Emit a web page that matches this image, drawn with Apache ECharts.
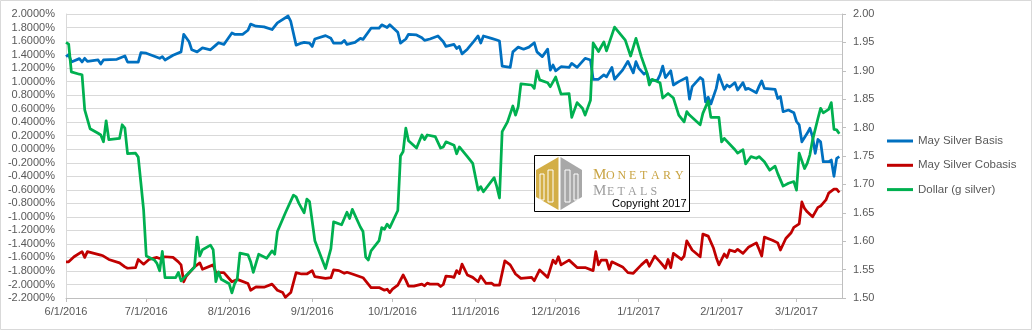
<!DOCTYPE html>
<html>
<head>
<meta charset="utf-8">
<script src="https://cdn.jsdelivr.net/npm/echarts@6/dist/echarts.min.js"></script>
<style>
  html, body { margin: 0; padding: 0; background: #fff; }
  #chart { width: 1032px; height: 330px; }
</style>
</head>
<body>
<div id="chart"></div>
<script>
// Series names
const seriesNames = ['May Silver Basis', 'May Silver Cobasis', 'Dollar (g silver)'];

// May Silver Basis, percent (left axis)
const basis = [
  ['2016-06-01',1.37],['2016-06-02',1.40],['2016-06-03',1.29],['2016-06-06',1.34],['2016-06-07',1.29],
  ['2016-06-08',1.345],['2016-06-09',1.30],['2016-06-13',1.32],['2016-06-14',1.26],['2016-06-15',1.32],
  ['2016-06-20',1.33],['2016-06-23',1.38],['2016-06-24',1.29],['2016-06-28',1.29],['2016-06-29',1.43],
  ['2016-07-01',1.42],['2016-07-06',1.345],['2016-07-07',1.37],['2016-07-08',1.32],['2016-07-11',1.39],
  ['2016-07-14',1.44],['2016-07-15',1.70],['2016-07-17',1.59],['2016-07-18',1.47],['2016-07-20',1.44],
  ['2016-07-22',1.50],['2016-07-25',1.47],['2016-07-27',1.54],['2016-07-28',1.575],['2016-07-30',1.55],
  ['2016-08-02',1.72],['2016-08-03',1.70],['2016-08-06',1.70],['2016-08-08',1.76],['2016-08-09',1.85],
  ['2016-08-11',1.82],['2016-08-14',1.81],['2016-08-17',1.77],['2016-08-19',1.87],['2016-08-23',1.97],
  ['2016-08-24',1.89],['2016-08-26',1.54],['2016-08-28',1.57],['2016-08-29',1.58],['2016-08-31',1.57],
  ['2016-09-01',1.52],['2016-09-02',1.63],['2016-09-06',1.68],['2016-09-08',1.64],['2016-09-09',1.57],
  ['2016-09-12',1.57],['2016-09-13',1.61],['2016-09-14',1.55],['2016-09-17',1.58],['2016-09-19',1.64],
  ['2016-09-20',1.625],['2016-09-23',1.79],['2016-09-26',1.79],['2016-09-27',1.84],['2016-09-29',1.80],
  ['2016-09-30',1.84],['2016-10-03',1.73],['2016-10-04',1.57],['2016-10-06',1.63],['2016-10-07',1.70],
  ['2016-10-10',1.69],['2016-10-12',1.65],['2016-10-13',1.61],['2016-10-15',1.63],['2016-10-18',1.675],
  ['2016-10-20',1.59],['2016-10-21',1.52],['2016-10-24',1.55],['2016-10-25',1.49],['2016-10-26',1.52],
  ['2016-10-27',1.41],['2016-10-29',1.48],['2016-10-31',1.575],['2016-11-02',1.675],['2016-11-03',1.57],
  ['2016-11-04',1.675],['2016-11-07',1.64],['2016-11-09',1.615],['2016-11-10',1.60],['2016-11-11',1.23],
  ['2016-11-14',1.21],['2016-11-15',1.44],['2016-11-17',1.51],['2016-11-19',1.48],['2016-11-21',1.51],
  ['2016-11-23',1.575],['2016-11-24',1.44],['2016-11-26',1.37],['2016-11-28',1.48],['2016-11-29',1.17],
  ['2016-11-30',1.245],['2016-12-01',1.16],['2016-12-03',1.22],['2016-12-06',1.21],['2016-12-07',1.27],
  ['2016-12-09',1.21],['2016-12-12',1.345],['2016-12-14',1.32],['2016-12-15',1.035],['2016-12-17',1.035],
  ['2016-12-19',1.10],['2016-12-20',1.07],['2016-12-22',1.21],['2016-12-23',1.035],['2016-12-26',1.17],
  ['2016-12-28',1.30],['2016-12-30',1.13],['2016-12-31',1.295],['2017-01-01',1.20],['2017-01-03',1.11],
  ['2017-01-04',1.14],['2017-01-05',1.02],['2017-01-08',1.02],['2017-01-09',1.10],['2017-01-10',1.23],
  ['2017-01-11',1.06],['2017-01-13',1.16],['2017-01-14',0.95],['2017-01-16',1.00],['2017-01-19',1.06],
  ['2017-01-20',0.74],['2017-01-21',0.925],['2017-01-24',1.06],['2017-01-25',1.03],['2017-01-26',0.70],
  ['2017-01-27',0.77],['2017-01-28',0.67],['2017-01-30',0.90],['2017-01-31',1.10],['2017-02-02',0.885],
  ['2017-02-03',0.95],['2017-02-04',0.92],['2017-02-06',0.985],['2017-02-07',0.875],['2017-02-09',0.985],
  ['2017-02-10',0.885],['2017-02-11',0.90],['2017-02-14',0.835],['2017-02-15',0.93],['2017-02-16',1.01],
  ['2017-02-17',0.90],['2017-02-21',0.885],['2017-02-22',0.75],['2017-02-23',0.78],['2017-02-24',0.555],
  ['2017-02-26',0.58],['2017-02-28',0.54],['2017-03-01',0.41],['2017-03-02',0.36],['2017-03-03',0.11],
  ['2017-03-05',0.235],['2017-03-06',0.31],['2017-03-07',0.185],['2017-03-08',-0.06],['2017-03-09',0.145],
  ['2017-03-10',0.11],['2017-03-11',-0.185],['2017-03-13',-0.185],['2017-03-14',-0.16],['2017-03-15',-0.40],
  ['2017-03-16',-0.135],['2017-03-17',-0.11]
];

// May Silver Cobasis, percent (left axis)
const cobasis = [
  ['2016-06-01',-1.665],['2016-06-02',-1.665],['2016-06-04',-1.59],['2016-06-07',-1.515],['2016-06-08',-1.60],
  ['2016-06-09',-1.515],['2016-06-14',-1.565],['2016-06-15',-1.58],['2016-06-17',-1.63],['2016-06-21',-1.68],
  ['2016-06-23',-1.74],['2016-06-24',-1.76],['2016-06-27',-1.75],['2016-06-28',-1.63],['2016-06-30',-1.70],
  ['2016-07-02',-1.63],['2016-07-05',-1.60],['2016-07-06',-1.615],['2016-07-08',-1.59],['2016-07-11',-1.60],
  ['2016-07-13',-1.665],['2016-07-14',-1.71],['2016-07-15',-1.96],['2016-07-16',-1.875],['2016-07-19',-1.74],
  ['2016-07-21',-1.68],['2016-07-22',-1.775],['2016-07-26',-1.71],['2016-07-27',-1.825],['2016-07-30',-1.825],
  ['2016-08-02',-1.96],['2016-08-04',-1.925],['2016-08-08',-1.985],['2016-08-09',-2.085],['2016-08-11',-2.035],
  ['2016-08-14',-2.04],['2016-08-17',-1.995],['2016-08-19',-2.085],['2016-08-21',-2.12],['2016-08-22',-2.19],
  ['2016-08-24',-2.12],['2016-08-26',-1.825],['2016-08-28',-1.845],['2016-08-30',-1.845],['2016-09-01',-1.795],
  ['2016-09-02',-1.885],['2016-09-06',-1.91],['2016-09-08',-1.90],['2016-09-09',-1.785],['2016-09-11',-1.795],
  ['2016-09-13',-1.835],['2016-09-14',-1.82],['2016-09-16',-1.845],['2016-09-20',-1.90],['2016-09-23',-2.045],
  ['2016-09-26',-2.045],['2016-09-28',-2.085],['2016-09-29',-2.07],['2016-09-30',-2.12],['2016-10-01',-2.07],
  ['2016-10-03',-2.01],['2016-10-05',-1.86],['2016-10-06',-1.935],['2016-10-07',-2.025],['2016-10-09',-2.025],
  ['2016-10-12',-1.995],['2016-10-13',-2.02],['2016-10-14',-1.98],['2016-10-15',-1.995],['2016-10-18',-1.995],
  ['2016-10-19',-2.03],['2016-10-20',-2.00],['2016-10-21',-1.875],['2016-10-23',-1.885],['2016-10-24',-1.895],
  ['2016-10-25',-1.795],['2016-10-26',-1.84],['2016-10-27',-1.70],['2016-10-29',-1.86],['2016-10-31',-1.895],
  ['2016-11-02',-1.96],['2016-11-03',-1.875],['2016-11-05',-1.985],['2016-11-07',-1.98],['2016-11-08',-2.01],
  ['2016-11-10',-2.01],['2016-11-12',-1.65],['2016-11-14',-1.71],['2016-11-16',-1.845],['2016-11-18',-1.91],
  ['2016-11-22',-1.895],['2016-11-23',-1.945],['2016-11-25',-1.785],['2016-11-28',-1.895],['2016-11-30',-1.64],
  ['2016-12-01',-1.69],['2016-12-02',-1.59],['2016-12-03',-1.71],['2016-12-06',-1.64],['2016-12-09',-1.75],
  ['2016-12-12',-1.75],['2016-12-15',-1.795],['2016-12-16',-1.515],['2016-12-17',-1.71],['2016-12-18',-1.64],
  ['2016-12-20',-1.64],['2016-12-21',-1.775],['2016-12-22',-1.665],['2016-12-26',-1.74],['2016-12-28',-1.825],
  ['2016-12-30',-1.835],['2017-01-02',-1.71],['2017-01-04',-1.64],['2017-01-05',-1.73],['2017-01-07',-1.58],
  ['2017-01-09',-1.665],['2017-01-11',-1.76],['2017-01-12',-1.63],['2017-01-13',-1.75],['2017-01-14',-1.54],
  ['2017-01-17',-1.63],['2017-01-18',-1.58],['2017-01-19',-1.355],['2017-01-21',-1.49],['2017-01-24',-1.59],
  ['2017-01-25',-1.255],['2017-01-27',-1.285],['2017-01-29',-1.465],['2017-01-30',-1.60],['2017-01-31',-1.71],
  ['2017-02-02',-1.55],['2017-02-03',-1.60],['2017-02-04',-1.49],['2017-02-06',-1.515],['2017-02-07',-1.48],
  ['2017-02-09',-1.54],['2017-02-11',-1.45],['2017-02-14',-1.385],['2017-02-15',-1.48],['2017-02-16',-1.58],
  ['2017-02-17',-1.30],['2017-02-20',-1.345],['2017-02-22',-1.385],['2017-02-23',-1.49],['2017-02-25',-1.32],
  ['2017-02-27',-1.235],['2017-02-28',-1.155],['2017-03-02',-1.105],['2017-03-03',-0.78],['2017-03-04',-0.875],
  ['2017-03-05',-0.925],['2017-03-07',-1.00],['2017-03-09',-0.86],['2017-03-10',-0.84],['2017-03-12',-0.75],
  ['2017-03-13',-0.65],['2017-03-15',-0.59],['2017-03-16',-0.59],['2017-03-17',-0.64]
];

// Dollar priced in grams of silver (right axis)
const dollar = [
  ['2016-06-01',1.950],['2016-06-02',1.947],['2016-06-03',1.898],['2016-06-06',1.894],['2016-06-07',1.893],
  ['2016-06-08',1.831],['2016-06-10',1.798],['2016-06-13',1.790],['2016-06-14',1.787],['2016-06-15',1.775],
  ['2016-06-16',1.812],['2016-06-17',1.779],['2016-06-21',1.781],['2016-06-22',1.805],['2016-06-23',1.799],
  ['2016-06-24',1.754],['2016-06-27',1.755],['2016-06-28',1.748],['2016-06-29',1.702],['2016-06-30',1.655],
  ['2016-07-01',1.574],['2016-07-04',1.567],['2016-07-05',1.561],['2016-07-06',1.548],['2016-07-07',1.582],
  ['2016-07-08',1.536],['2016-07-12',1.536],['2016-07-13',1.545],['2016-07-14',1.530],['2016-07-16',1.540],
  ['2016-07-19',1.554],['2016-07-20',1.607],['2016-07-21',1.574],['2016-07-22',1.585],['2016-07-25',1.593],
  ['2016-07-26',1.585],['2016-07-27',1.529],['2016-07-28',1.546],['2016-07-29',1.533],['2016-08-01',1.525],
  ['2016-08-02',1.509],['2016-08-03',1.525],['2016-08-04',1.533],['2016-08-05',1.579],['2016-08-08',1.576],
  ['2016-08-09',1.564],['2016-08-10',1.545],['2016-08-12',1.577],['2016-08-15',1.570],['2016-08-17',1.583],
  ['2016-08-18',1.577],['2016-08-19',1.617],['2016-08-22',1.650],['2016-08-25',1.681],['2016-08-26',1.678],
  ['2016-08-27',1.667],['2016-08-29',1.650],['2016-08-30',1.674],['2016-08-31',1.670],['2016-09-02',1.601],
  ['2016-09-06',1.552],['2016-09-08',1.587],['2016-09-09',1.634],['2016-09-12',1.629],['2016-09-14',1.651],
  ['2016-09-15',1.640],['2016-09-16',1.656],['2016-09-19',1.625],['2016-09-20',1.617],['2016-09-21',1.572],
  ['2016-09-22',1.567],['2016-09-23',1.583],['2016-09-26',1.601],['2016-09-27',1.624],['2016-09-28',1.621],
  ['2016-09-29',1.630],['2016-09-30',1.624],['2016-10-03',1.654],['2016-10-04',1.750],['2016-10-05',1.758],
  ['2016-10-06',1.799],['2016-10-07',1.777],['2016-10-10',1.764],['2016-10-12',1.787],['2016-10-13',1.779],
  ['2016-10-14',1.787],['2016-10-17',1.784],['2016-10-19',1.764],['2016-10-20',1.766],['2016-10-21',1.775],
  ['2016-10-24',1.769],['2016-10-25',1.754],['2016-10-26',1.766],['2016-10-29',1.749],['2016-10-31',1.737],
  ['2016-11-02',1.690],['2016-11-03',1.696],['2016-11-04',1.687],['2016-11-08',1.712],['2016-11-09',1.696],
  ['2016-11-10',1.676],['2016-11-11',1.793],['2016-11-13',1.810],['2016-11-15',1.838],['2016-11-16',1.822],
  ['2016-11-17',1.837],['2016-11-18',1.877],['2016-11-22',1.875],['2016-11-23',1.869],['2016-11-24',1.900],
  ['2016-11-25',1.884],['2016-11-28',1.879],['2016-11-29',1.872],['2016-12-01',1.889],['2016-12-03',1.859],
  ['2016-12-06',1.860],['2016-12-07',1.818],['2016-12-09',1.844],['2016-12-11',1.834],['2016-12-12',1.822],
  ['2016-12-14',1.848],['2016-12-15',1.949],['2016-12-17',1.934],['2016-12-19',1.951],['2016-12-20',1.935],
  ['2016-12-23',1.977],['2016-12-27',1.954],['2016-12-29',1.926],['2016-12-31',1.957],['2017-01-02',1.925],
  ['2017-01-04',1.898],['2017-01-05',1.875],['2017-01-06',1.885],['2017-01-09',1.879],['2017-01-10',1.852],
  ['2017-01-12',1.860],['2017-01-14',1.852],['2017-01-16',1.822],['2017-01-18',1.810],['2017-01-19',1.828],
  ['2017-01-20',1.822],['2017-01-24',1.805],['2017-01-25',1.825],['2017-01-27',1.847],['2017-01-28',1.818],
  ['2017-01-31',1.818],['2017-02-01',1.775],['2017-02-02',1.781],['2017-02-06',1.761],['2017-02-07',1.755],
  ['2017-02-09',1.761],['2017-02-10',1.736],['2017-02-12',1.749],['2017-02-14',1.746],['2017-02-15',1.749],
  ['2017-02-17',1.740],['2017-02-19',1.725],['2017-02-21',1.732],['2017-02-22',1.719],['2017-02-24',1.697],
  ['2017-02-26',1.702],['2017-02-28',1.705],['2017-03-01',1.690],['2017-03-02',1.755],['2017-03-04',1.728],
  ['2017-03-05',1.737],['2017-03-06',1.752],['2017-03-07',1.778],['2017-03-09',1.816],['2017-03-10',1.834],
  ['2017-03-11',1.826],['2017-03-13',1.832],['2017-03-14',1.844],['2017-03-15',1.797],['2017-03-16',1.796],
  ['2017-03-17',1.789]
];

// Date axis range and month ticks
const dateRange = ['2016-06-01', '2017-03-18'];
const monthTicks = ['2016-06-01','2016-07-01','2016-08-01','2016-09-01','2016-10-01',
                    '2016-11-01','2016-12-01','2017-01-01','2017-02-01','2017-03-01'];

// Axis scales
const leftAxis = { min: -2.2, max: 2.0, step: 0.2 };
const rightAxis = { min: 1.5, max: 2.0, step: 0.05 };

const toTime = s => { const [y, m, d] = s.split('-').map(Number); return Date.UTC(y, m - 1, d); };
const toPoints = arr => arr.map(([d, v]) => [toTime(d), v]);

const axisFont = 'Liberation Sans, Arial, sans-serif';
const labelColor = '#595959';
const gridColor = '#d9d9d9';

// Logo lettering
const gold = '#C9A443';
const grey = '#9D9D9D';
function letters(word, xs, yBig, ySmall, color) {
  return word.split('').map((ch, i) => ({
    type: 'text', z: 110,
    style: {
      text: ch, x: xs[i], y: i === 0 ? yBig : ySmall,
      fill: color, verticalAlign: 'middle',
      font: (i === 0 ? '15px' : '12px') + ' "Liberation Serif", "DejaVu Serif", serif'
    }
  }));
}

const chart = echarts.init(document.getElementById('chart'), null, { renderer: 'canvas' });

chart.setOption({
  animation: false,
  backgroundColor: '#fff',
  grid: { left: 66, right: 190, top: 14, bottom: 32 },
  legend: {
    orient: 'vertical',
    left: 887, top: 134,
    padding: 0,
    itemWidth: 26, itemHeight: 3, itemGap: 10.3,
    icon: 'rect',
    textStyle: { color: labelColor, fontSize: 11.5, fontFamily: axisFont, lineHeight: 14 },
    data: seriesNames
  },
  xAxis: {
    type: 'value',
    min: toTime(dateRange[0]),
    max: toTime(dateRange[1]),
    splitLine: { show: false },
    axisLine: { show: true, onZero: false, lineStyle: { color: '#bfbfbf', width: 1 } },
    axisTick: { show: true, length: 4, customValues: monthTicks.map(toTime), lineStyle: { color: '#bfbfbf' } },
    axisLabel: {
      customValues: monthTicks.map(toTime),
      color: labelColor, fontSize: 11, fontFamily: axisFont, margin: 8,
      formatter: v => { const d = new Date(v); return (d.getUTCMonth() + 1) + '/' + d.getUTCDate() + '/' + d.getUTCFullYear(); }
    }
  },
  yAxis: [
    {
      type: 'value', position: 'left',
      min: leftAxis.min, max: leftAxis.max, interval: leftAxis.step,
      axisLine: { show: true, lineStyle: { color: gridColor } },
      axisTick: { show: false },
      splitLine: { show: true, lineStyle: { color: gridColor, width: 1 } },
      axisLabel: {
        color: labelColor, fontSize: 11, fontFamily: axisFont, margin: 11,
        formatter: v => (Math.abs(v) < 1e-9 ? 0 : v).toFixed(4) + '%'
      }
    },
    {
      type: 'value', position: 'right',
      min: rightAxis.min, max: rightAxis.max, interval: rightAxis.step,
      axisLine: { show: true, lineStyle: { color: '#bfbfbf' } },
      axisTick: { show: true, inside: false, length: 4, lineStyle: { color: '#bfbfbf' } },
      splitLine: { show: false },
      axisLabel: {
        color: labelColor, fontSize: 11, fontFamily: axisFont, margin: 11,
        formatter: v => v.toFixed(2)
      }
    }
  ],
  series: [
    { name: seriesNames[0], type: 'line', yAxisIndex: 0, data: toPoints(basis),
      symbol: 'none', color: '#0070C0', lineStyle: { width: 2.75, join: 'round' } },
    { name: seriesNames[1], type: 'line', yAxisIndex: 0, data: toPoints(cobasis),
      symbol: 'none', color: '#C00000', lineStyle: { width: 2.75, join: 'round' } },
    { name: seriesNames[2], type: 'line', yAxisIndex: 1, data: toPoints(dollar),
      symbol: 'none', color: '#00B050', lineStyle: { width: 2.75, join: 'round' } }
  ],
  graphic: [
    // chart area frame
    { type: 'rect', z: 100, silent: true,
      shape: { x: 0.5, y: 0.5, width: 1031, height: 329 },
      style: { fill: 'none', stroke: '#d9d9d9', lineWidth: 1 } },
    // logo panel
    { type: 'rect', z: 105,
      shape: { x: 534.5, y: 155.5, width: 155, height: 56 },
      style: { fill: '#fff', stroke: '#000', lineWidth: 1 } },
    { type: 'polygon', z: 106,
      shape: { points: [[536, 170], [558.5, 157], [558.5, 210], [536, 197]] },
      style: { fill: '#D3AE46' } },
    { type: 'polygon', z: 106,
      shape: { points: [[560.5, 157], [582, 170], [582, 197], [560.5, 210]] },
      style: { fill: '#A8A8A8' } },
    { type: 'rect', z: 107, shape: { x: 540, y: 174, width: 4, height: 26 }, style: { fill: 'none', stroke: '#fff', lineWidth: 1 } },
    { type: 'rect', z: 107, shape: { x: 548, y: 170, width: 5, height: 32 }, style: { fill: 'none', stroke: '#fff', lineWidth: 1 } },
    { type: 'rect', z: 107, shape: { x: 565, y: 170, width: 5, height: 32 }, style: { fill: 'none', stroke: '#fff', lineWidth: 1 } },
    { type: 'rect', z: 107, shape: { x: 574, y: 174, width: 4, height: 26 }, style: { fill: 'none', stroke: '#fff', lineWidth: 1 } },
    ...letters('MONETARY', [593, 606, 617.5, 629, 640, 651, 663, 675], 175.4, 176.3, gold),
    ...letters('METALS', [593, 607, 617.5, 628, 640, 650.5], 190.6, 191.5, grey),
    { type: 'text', z: 110,
      style: { text: 'Copyright 2017', x: 612, y: 203.5, verticalAlign: 'middle',
               fill: '#000', font: '11px "Liberation Sans", Arial, sans-serif' } }
  ]
});
</script>
</body>
</html>
